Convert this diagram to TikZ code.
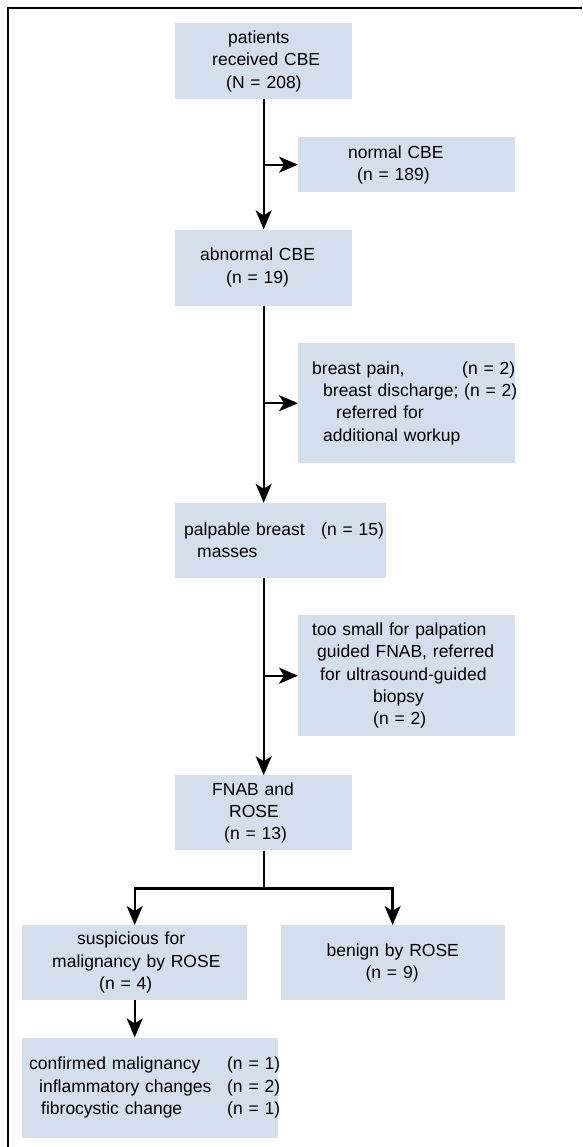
\documentclass[tikz,border=0pt]{standalone}
\usepackage{fontspec}
\setmainfont{Liberation Sans}
\usetikzlibrary{positioning,arrows.meta}
\definecolor{boxfill}{RGB}{213,222,236}
\newcommand{\tline}[2]{\makebox[0pt][l]{\hspace*{#1pt}#2}}
\tikzset{
  stage/.style={fill=boxfill, inner sep=0pt, align=left, anchor=north west,
    font=\fontsize{17.5}{22.3}\selectfont},
  flow/.style={line width=2.3pt, -{Stealth[length=19pt,width=16pt,inset=5pt]}},
}

\begin{document}
\begin{tikzpicture}[x=1pt,y=1pt]
  \useasboundingbox (0,0) rectangle (582,-1147);
  \draw[line width=1.5pt] (8,-1147) -- (8,-8) -- (582,-8);

  % main column
  \node[stage, text width=177pt, minimum height=76pt] (recv) at (175,-23)
    {\tline{53}{patients}\\\tline{37}{received CBE}\\\tline{51}{(N = 208)}};
  \node[stage, text width=177pt, minimum height=76pt, below=130pt of recv] (abn)
    {\tline{25}{abnormal CBE}\\\tline{51}{(n = 19)}};
  \node[stage, text width=211pt, minimum height=75pt, below=197pt of abn.south west, anchor=north west] (palp)
    {\tline{9}{palpable breast}\tline{146}{(n = 15)}\\\tline{22}{masses}};
  \node[stage, text width=177pt, minimum height=75pt, below=197pt of palp.south west, anchor=north west] (fnab)
    {\tline{37}{FNAB and}\\\tline{54}{ROSE}\\\tline{49}{(n = 13)}};

  % side boxes
  \node[stage, text width=217pt, minimum height=55pt] (normal) at (298,-137)
    {\tline{50}{normal CBE}\\\tline{59}{(n = 189)}};
  \node[stage, text width=217pt, minimum height=120pt] (pain) at (298,-343)
    {\tline{14}{breast pain,}\tline{164}{(n = 2)}\\\tline{25}{breast discharge; (n = 2)}\\
     \tline{38}{referred for}\\\tline{25}{additional workup}};
  \node[stage, text width=217pt, minimum height=121pt] (small) at (298,-615)
    {\tline{14}{too small for palpation}\\\tline{19}{guided FNAB, referred}\\
     \tline{22}{for ultrasound-guided}\\\tline{75}{biopsy}\\\tline{75}{(n = 2)}};

  % results
  \node[stage, text width=225pt, minimum height=75pt] (susp) at (22,-925)
    {\tline{55}{suspicious for}\\\tline{30}{malignancy by ROSE}\\\tline{77}{(n = 4)}};
  \node[stage, text width=224pt, minimum height=75pt, right=33pt of susp.north east, anchor=north west] (benign)
    {\tline{46}{benign by ROSE}\\\tline{85}{(n = 9)}};
  \node[stage, text width=256pt, minimum height=100pt, below=37pt of susp.south west, anchor=north west] (final)
    {\tline{7}{confirmed malignancy}\tline{205}{(n = 1)}\\
     \tline{17}{inflammatory changes}\tline{205}{(n = 2)}\\
     \tline{19}{fibrocystic change}\tline{205}{(n = 1)}};

  \draw[flow] (recv.south) -- (abn.north);
  \draw[flow] (recv.south |- normal.west) -- (normal.west);
  \draw[flow] (abn.south) -- (abn.south |- palp.north);
  \draw[flow] (abn.south |- pain.west) -- (pain.west);
  \draw[flow] (fnab.north |- palp.south) -- (fnab.north);
  \draw[flow] (fnab.north |- small.west) -- (small.west);
  \coordinate[below=38pt of fnab.south] (split);
  \draw[line width=2.3pt] (fnab.south) -- (split);
  \draw[flow] (split) -| (susp.north);
  \draw[flow] (split) -| (benign.north);
  \draw[flow] (susp.south) -- (susp.south |- final.north);
\end{tikzpicture}
\end{document}
